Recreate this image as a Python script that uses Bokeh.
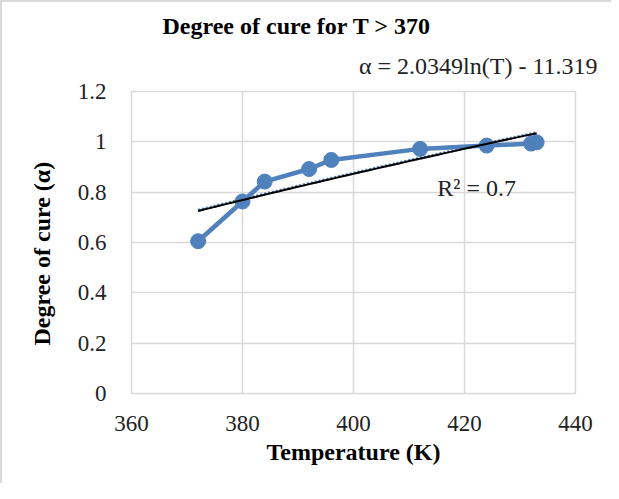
import numpy as np
from bokeh.plotting import figure
from bokeh.models import Label, Range1d, FixedTicker, CustomJSTickFormatter, Title
from bokeh.embed import file_html
from bokeh.resources import INLINE

# ---- data ----
temperature = [372, 380, 384, 392, 396, 412, 424, 432, 433]
cure = [0.605, 0.763, 0.842, 0.892, 0.928, 0.972, 0.985, 0.993, 0.998]
x_ticks = [360, 380, 400, 420, 440]
y_ticks = [0, 0.2, 0.4, 0.6, 0.8, 1.0, 1.2]
eq_slope = 2.0349
eq_intercept = -11.319
title_text = "Degree of cure for T > 370"
eq_text = "α = 2.0349ln(T) - 11.319"
r2_text = "R² = 0.7"
x_title = "Temperature (K)"
y_title = "Degree of cure (α)"

FONT = "Liberation Serif"
BLUE = "#4f81bd"
GRID = "#d9d9d9"

p = figure(width=611, height=483, x_range=Range1d(360, 440), y_range=Range1d(0, 1.2),
           output_backend="svg", toolbar_location=None,
           min_border_left=129, min_border_right=38, min_border_top=89, min_border_bottom=92)
p.styles = {"border-left": "2px solid #d9d9d9", "border-top": "2px solid #d9d9d9",
            "border-right": "0px none", "border-bottom": "0px none",
            "outline": "none", "box-shadow": "none"}
p.background_fill_color = "white"
p.border_fill_color = "white"
p.outline_line_color = GRID
p.outline_line_width = 1.5

# main title (outermost)
p.title.text = title_text
p.title.text_font = FONT
p.title.text_font_style = "bold"
p.title.text_font_size = "24px"
p.title.align = "left"
p.title.offset = 31
p.title.standoff = 0
p.title.text_color = "black"

# equation of the trendline (nearest to frame)
p.add_layout(Title(text=eq_text, text_font=FONT, text_font_style="normal", text_font_size="24px",
                   align="right", offset=-22, standoff=25, text_color="#222222"), "above")

for ax in (p.xaxis[0], p.yaxis[0]):
    ax.axis_line_color = None
    ax.major_tick_line_color = None
    ax.minor_tick_line_color = None
    ax.major_label_text_font = FONT
    ax.major_label_text_font_size = "23px"
    ax.major_label_text_color = "#222222"

p.xaxis.axis_label = x_title
p.xaxis.axis_label_text_font = FONT
p.xaxis.axis_label_text_font_style = "bold"
p.xaxis.axis_label_text_font_size = "24px"
p.xaxis.axis_label_text_color = "black"
p.xaxis.axis_label_standoff = 5

p.xaxis.ticker = FixedTicker(ticks=x_ticks)
p.yaxis.ticker = FixedTicker(ticks=y_ticks)
p.yaxis.formatter = CustomJSTickFormatter(code="return String(Math.round(tick*10)/10);")
p.xaxis.major_label_standoff = 16
p.yaxis.major_label_standoff = 19

# y axis title, placed outside the y axis
p.add_layout(Title(text=y_title, text_font=FONT, text_font_style="bold", text_font_size="24px",
                   align="left", offset=48, standoff=40, text_color="black"), "left")

p.xgrid.ticker = FixedTicker(ticks=x_ticks)
p.ygrid.ticker = FixedTicker(ticks=y_ticks)
for g in (p.xgrid[0], p.ygrid[0]):
    g.grid_line_color = GRID
    g.grid_line_width = 1.5

# series
p.line(temperature, cure, line_color=BLUE, line_width=4.5)
p.scatter(temperature, cure, size=15, fill_color=BLUE, line_color=BLUE)

# trendlines
t_fit = np.linspace(min(temperature), max(temperature), 60)
fit_slope, fit_int = np.polyfit(np.log(temperature), cure, 1)
p.line(t_fit, fit_slope * np.log(t_fit) + fit_int, line_color=BLUE, line_width=3, line_dash="2 2")
p.line(t_fit, eq_slope * np.log(t_fit) + eq_intercept, line_color="black", line_width=2)

# R² label inside the plot area
p.add_layout(Label(x=415.1, y=0.8185, text=r2_text, text_font=FONT, text_font_size="24px",
                   text_align="left", text_baseline="alphabetic", text_color="#222222"))

open("out.html", "w").write(file_html(p, INLINE))
